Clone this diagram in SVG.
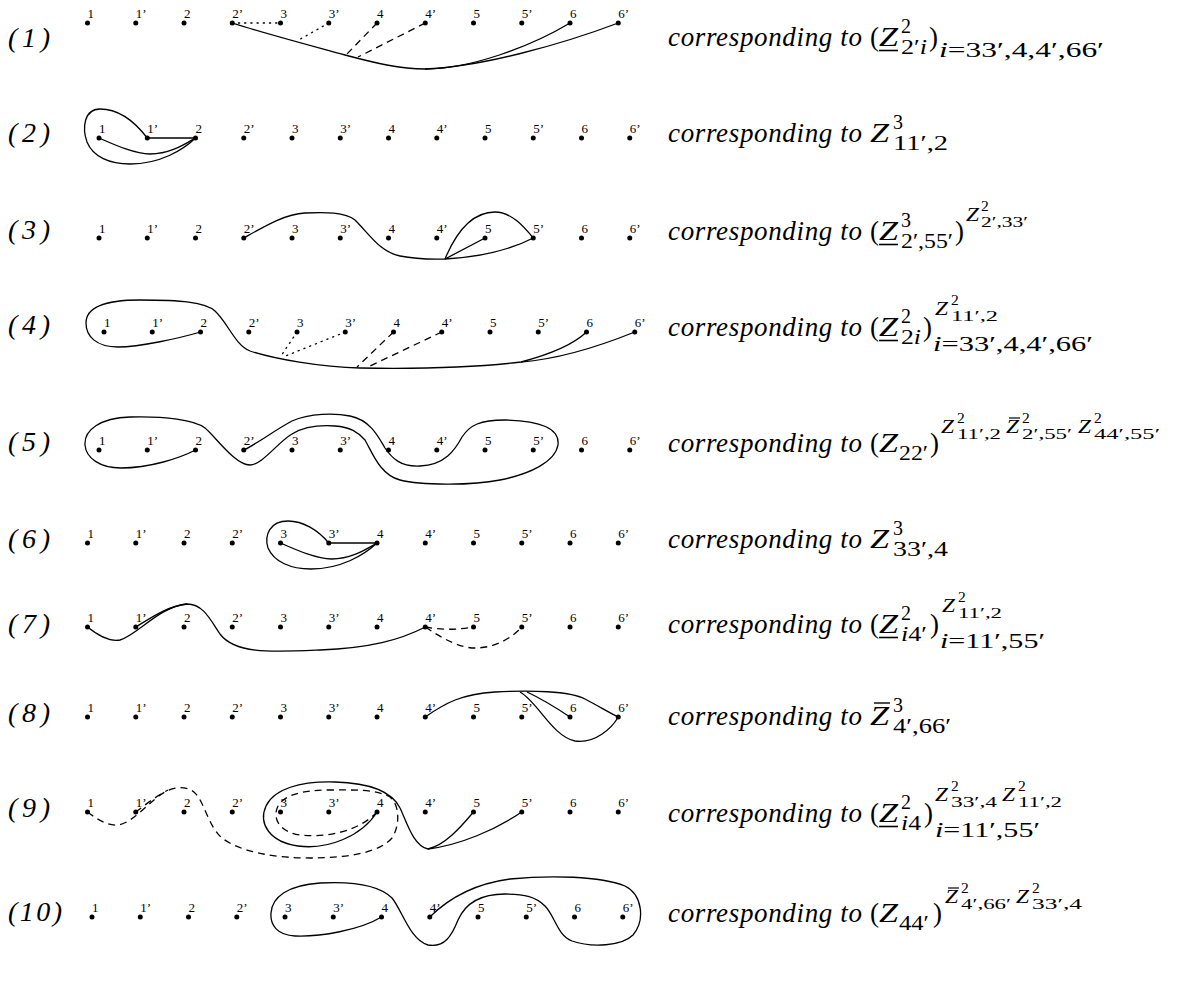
<svg xmlns="http://www.w3.org/2000/svg" width="1183" height="1006" viewBox="0 0 1183 1006">
<style>
text{font-family:"Liberation Serif","DejaVu Serif",serif;fill:#000}
.pl{font-size:13px}
.rl{font-size:28px;font-style:italic}
.m{font-size:27px;font-style:italic}
.r{font-size:27px}
.s{font-size:20px}
.ss{font-size:15.5px}
.z{font-size:19px;font-style:italic}
.it{font-style:italic}
.c{fill:none;stroke:#000;stroke-width:1.3}
.da{stroke-dasharray:7 5}
.dt{stroke-dasharray:1.2 5;stroke-linecap:round}
.ul{stroke:#000;stroke-width:1.6}
.bar{stroke:#000;stroke-width:1.2}
</style>
<defs>
<circle id="d" r="2.5" fill="#000"/>
</defs>
<rect width="1183" height="1006" fill="#fff"/>

<g id="rowlabels">
<text class="rl" x="8" y="47" textLength="42">(1)</text>
<text class="rl" x="8" y="142" textLength="42">(2)</text>
<text class="rl" x="8" y="239" textLength="42">(3)</text>
<text class="rl" x="8" y="334" textLength="42">(4)</text>
<text class="rl" x="8" y="451" textLength="42">(5)</text>
<text class="rl" x="8" y="548" textLength="42">(6)</text>
<text class="rl" x="8" y="633" textLength="42">(7)</text>
<text class="rl" x="8" y="722" textLength="42">(8)</text>
<text class="rl" x="8" y="817" textLength="42">(9)</text>
<text class="rl" x="8" y="921" textLength="54">(10)</text>
</g>

<g id="row1" transform="translate(87.5,23)">
<use href="#d" x="0"/><use href="#d" x="48.25"/><use href="#d" x="96.5"/><use href="#d" x="144.75"/><use href="#d" x="193"/><use href="#d" x="241.25"/><use href="#d" x="289.5"/><use href="#d" x="337.75"/><use href="#d" x="386"/><use href="#d" x="434.25"/><use href="#d" x="482.5"/><use href="#d" x="530.75"/>
<text class="pl" x="0" y="-5.5">1</text><text class="pl" x="48.25" y="-5.5">1’</text><text class="pl" x="96.5" y="-5.5">2</text><text class="pl" x="144.75" y="-5.5">2’</text><text class="pl" x="193" y="-5.5">3</text><text class="pl" x="241.25" y="-5.5">3’</text><text class="pl" x="289.5" y="-5.5">4</text><text class="pl" x="337.75" y="-5.5">4’</text><text class="pl" x="386" y="-5.5">5</text><text class="pl" x="434.25" y="-5.5">5’</text><text class="pl" x="482.5" y="-5.5">6</text><text class="pl" x="530.75" y="-5.5">6’</text>
</g>
<g id="row2" transform="translate(99,138)">
<use href="#d" x="0"/><use href="#d" x="48.25"/><use href="#d" x="96.5"/><use href="#d" x="144.75"/><use href="#d" x="193"/><use href="#d" x="241.25"/><use href="#d" x="289.5"/><use href="#d" x="337.75"/><use href="#d" x="386"/><use href="#d" x="434.25"/><use href="#d" x="482.5"/><use href="#d" x="530.75"/>
<text class="pl" x="0" y="-5.5">1</text><text class="pl" x="48.25" y="-5.5">1’</text><text class="pl" x="96.5" y="-5.5">2</text><text class="pl" x="144.75" y="-5.5">2’</text><text class="pl" x="193" y="-5.5">3</text><text class="pl" x="241.25" y="-5.5">3’</text><text class="pl" x="289.5" y="-5.5">4</text><text class="pl" x="337.75" y="-5.5">4’</text><text class="pl" x="386" y="-5.5">5</text><text class="pl" x="434.25" y="-5.5">5’</text><text class="pl" x="482.5" y="-5.5">6</text><text class="pl" x="530.75" y="-5.5">6’</text>
</g>
<g id="row3" transform="translate(99,238)">
<use href="#d" x="0"/><use href="#d" x="48.25"/><use href="#d" x="96.5"/><use href="#d" x="144.75"/><use href="#d" x="193"/><use href="#d" x="241.25"/><use href="#d" x="289.5"/><use href="#d" x="337.75"/><use href="#d" x="386"/><use href="#d" x="434.25"/><use href="#d" x="482.5"/><use href="#d" x="530.75"/>
<text class="pl" x="0" y="-5.5">1</text><text class="pl" x="48.25" y="-5.5">1’</text><text class="pl" x="96.5" y="-5.5">2</text><text class="pl" x="144.75" y="-5.5">2’</text><text class="pl" x="193" y="-5.5">3</text><text class="pl" x="241.25" y="-5.5">3’</text><text class="pl" x="289.5" y="-5.5">4</text><text class="pl" x="337.75" y="-5.5">4’</text><text class="pl" x="386" y="-5.5">5</text><text class="pl" x="434.25" y="-5.5">5’</text><text class="pl" x="482.5" y="-5.5">6</text><text class="pl" x="530.75" y="-5.5">6’</text>
</g>
<g id="row4" transform="translate(104,332)">
<use href="#d" x="0"/><use href="#d" x="48.25"/><use href="#d" x="96.5"/><use href="#d" x="144.75"/><use href="#d" x="193"/><use href="#d" x="241.25"/><use href="#d" x="289.5"/><use href="#d" x="337.75"/><use href="#d" x="386"/><use href="#d" x="434.25"/><use href="#d" x="482.5"/><use href="#d" x="530.75"/>
<text class="pl" x="0" y="-5.5">1</text><text class="pl" x="48.25" y="-5.5">1’</text><text class="pl" x="96.5" y="-5.5">2</text><text class="pl" x="144.75" y="-5.5">2’</text><text class="pl" x="193" y="-5.5">3</text><text class="pl" x="241.25" y="-5.5">3’</text><text class="pl" x="289.5" y="-5.5">4</text><text class="pl" x="337.75" y="-5.5">4’</text><text class="pl" x="386" y="-5.5">5</text><text class="pl" x="434.25" y="-5.5">5’</text><text class="pl" x="482.5" y="-5.5">6</text><text class="pl" x="530.75" y="-5.5">6’</text>
</g>
<g id="row5" transform="translate(99,450)">
<use href="#d" x="0"/><use href="#d" x="48.25"/><use href="#d" x="96.5"/><use href="#d" x="144.75"/><use href="#d" x="193"/><use href="#d" x="241.25"/><use href="#d" x="289.5"/><use href="#d" x="337.75"/><use href="#d" x="386"/><use href="#d" x="434.25"/><use href="#d" x="482.5"/><use href="#d" x="530.75"/>
<text class="pl" x="0" y="-5.5">1</text><text class="pl" x="48.25" y="-5.5">1’</text><text class="pl" x="96.5" y="-5.5">2</text><text class="pl" x="144.75" y="-5.5">2’</text><text class="pl" x="193" y="-5.5">3</text><text class="pl" x="241.25" y="-5.5">3’</text><text class="pl" x="289.5" y="-5.5">4</text><text class="pl" x="337.75" y="-5.5">4’</text><text class="pl" x="386" y="-5.5">5</text><text class="pl" x="434.25" y="-5.5">5’</text><text class="pl" x="482.5" y="-5.5">6</text><text class="pl" x="530.75" y="-5.5">6’</text>
</g>
<g id="row6" transform="translate(87.5,543)">
<use href="#d" x="0"/><use href="#d" x="48.25"/><use href="#d" x="96.5"/><use href="#d" x="144.75"/><use href="#d" x="193"/><use href="#d" x="241.25"/><use href="#d" x="289.5"/><use href="#d" x="337.75"/><use href="#d" x="386"/><use href="#d" x="434.25"/><use href="#d" x="482.5"/><use href="#d" x="530.75"/>
<text class="pl" x="0" y="-5.5">1</text><text class="pl" x="48.25" y="-5.5">1’</text><text class="pl" x="96.5" y="-5.5">2</text><text class="pl" x="144.75" y="-5.5">2’</text><text class="pl" x="193" y="-5.5">3</text><text class="pl" x="241.25" y="-5.5">3’</text><text class="pl" x="289.5" y="-5.5">4</text><text class="pl" x="337.75" y="-5.5">4’</text><text class="pl" x="386" y="-5.5">5</text><text class="pl" x="434.25" y="-5.5">5’</text><text class="pl" x="482.5" y="-5.5">6</text><text class="pl" x="530.75" y="-5.5">6’</text>
</g>
<g id="row7" transform="translate(87.5,627)">
<use href="#d" x="0"/><use href="#d" x="48.25"/><use href="#d" x="96.5"/><use href="#d" x="144.75"/><use href="#d" x="193"/><use href="#d" x="241.25"/><use href="#d" x="289.5"/><use href="#d" x="337.75"/><use href="#d" x="386"/><use href="#d" x="434.25"/><use href="#d" x="482.5"/><use href="#d" x="530.75"/>
<text class="pl" x="0" y="-5.5">1</text><text class="pl" x="48.25" y="-5.5">1’</text><text class="pl" x="96.5" y="-5.5">2</text><text class="pl" x="144.75" y="-5.5">2’</text><text class="pl" x="193" y="-5.5">3</text><text class="pl" x="241.25" y="-5.5">3’</text><text class="pl" x="289.5" y="-5.5">4</text><text class="pl" x="337.75" y="-5.5">4’</text><text class="pl" x="386" y="-5.5">5</text><text class="pl" x="434.25" y="-5.5">5’</text><text class="pl" x="482.5" y="-5.5">6</text><text class="pl" x="530.75" y="-5.5">6’</text>
</g>
<g id="row8" transform="translate(87.5,717)">
<use href="#d" x="0"/><use href="#d" x="48.25"/><use href="#d" x="96.5"/><use href="#d" x="144.75"/><use href="#d" x="193"/><use href="#d" x="241.25"/><use href="#d" x="289.5"/><use href="#d" x="337.75"/><use href="#d" x="386"/><use href="#d" x="434.25"/><use href="#d" x="482.5"/><use href="#d" x="530.75"/>
<text class="pl" x="0" y="-5.5">1</text><text class="pl" x="48.25" y="-5.5">1’</text><text class="pl" x="96.5" y="-5.5">2</text><text class="pl" x="144.75" y="-5.5">2’</text><text class="pl" x="193" y="-5.5">3</text><text class="pl" x="241.25" y="-5.5">3’</text><text class="pl" x="289.5" y="-5.5">4</text><text class="pl" x="337.75" y="-5.5">4’</text><text class="pl" x="386" y="-5.5">5</text><text class="pl" x="434.25" y="-5.5">5’</text><text class="pl" x="482.5" y="-5.5">6</text><text class="pl" x="530.75" y="-5.5">6’</text>
</g>
<g id="row9" transform="translate(87.5,812)">
<use href="#d" x="0"/><use href="#d" x="48.25"/><use href="#d" x="96.5"/><use href="#d" x="144.75"/><use href="#d" x="193"/><use href="#d" x="241.25"/><use href="#d" x="289.5"/><use href="#d" x="337.75"/><use href="#d" x="386"/><use href="#d" x="434.25"/><use href="#d" x="482.5"/><use href="#d" x="530.75"/>
<text class="pl" x="0" y="-5.5">1</text><text class="pl" x="48.25" y="-5.5">1’</text><text class="pl" x="96.5" y="-5.5">2</text><text class="pl" x="144.75" y="-5.5">2’</text><text class="pl" x="193" y="-5.5">3</text><text class="pl" x="241.25" y="-5.5">3’</text><text class="pl" x="289.5" y="-5.5">4</text><text class="pl" x="337.75" y="-5.5">4’</text><text class="pl" x="386" y="-5.5">5</text><text class="pl" x="434.25" y="-5.5">5’</text><text class="pl" x="482.5" y="-5.5">6</text><text class="pl" x="530.75" y="-5.5">6’</text>
</g>
<g id="row10" transform="translate(92,917)">
<use href="#d" x="0"/><use href="#d" x="48.25"/><use href="#d" x="96.5"/><use href="#d" x="144.75"/><use href="#d" x="193"/><use href="#d" x="241.25"/><use href="#d" x="289.5"/><use href="#d" x="337.75"/><use href="#d" x="386"/><use href="#d" x="434.25"/><use href="#d" x="482.5"/><use href="#d" x="530.75"/>
<text class="pl" x="0" y="-5.5">1</text><text class="pl" x="48.25" y="-5.5">1’</text><text class="pl" x="96.5" y="-5.5">2</text><text class="pl" x="144.75" y="-5.5">2’</text><text class="pl" x="193" y="-5.5">3</text><text class="pl" x="241.25" y="-5.5">3’</text><text class="pl" x="289.5" y="-5.5">4</text><text class="pl" x="337.75" y="-5.5">4’</text><text class="pl" x="386" y="-5.5">5</text><text class="pl" x="434.25" y="-5.5">5’</text><text class="pl" x="482.5" y="-5.5">6</text><text class="pl" x="530.75" y="-5.5">6’</text>
</g>

<g id="connectors">
<path class="c dt" d="M232.25,23 L280.5,23"/>
<path class="c dt" d="M328.75,23 L297,41"/>
<path class="c da" d="M377,23 L347,54"/>
<path class="c da" d="M425.25,23 L358,57"/>
<path class="c" d="M232.25,23 C270,35 320,48 345,55 C375,63 400,69 425,69 C470,69 530,47 570,23"/>
<path class="c" d="M425,69 C480,67 560,45 618.25,23"/>
<path class="c" d="M147.25,138 L195.5,138"/>
<path class="c" d="M99,138 C115,145 135,154 150,154 C170,154 185,144 195.5,138"/>
<path class="c" d="M147.25,138 C135,122 120,109 100,109 C84,109 82,128 87,142 C93,157 110,164 130,164 C160,164 183,150 195.5,138"/>
<path class="c" d="M243.75,238 C265,226 285,214 305,213 C325,212 345,212 355,220 C370,235 380,252 400,256 C420,260 440,259 445,259 C480,257 510,250 533.25,238"/>
<path class="c" d="M445,259 L485,238"/>
<path class="c" d="M445,259 C455,235 470,212 495,212 C512,212 525,228 533.25,238"/>
<path class="c" d="M200.5,332 C180,338 140,347 118,347 C96,347 86,336 86,323 C86,307 105,300 140,300 C180,300 205,302 215,311 C228,323 235,345 250,351 C275,359 320,367 360,368 C420,369 480,367 521,362 C555,353 575,343 586.5,332"/>
<path class="c" d="M521,362 C560,359 600,346 634.75,332"/>
<path class="c dt" d="M297,332 L281,356"/>
<path class="c dt" d="M345.25,332 L283,357"/>
<path class="c da" d="M393.5,332 L357,367"/>
<path class="c da" d="M441.75,332 L370,366"/>
<path class="c" d="M195.5,450 C180,458 150,468 121,468 C100,468 86,458 85,445 C84,430 100,418 130,417 C165,416 195,420 205,428 C215,436 235,465 250,465 C262,465 278,442 292,434 C305,426 320,425 335,426 C350,427 358,432 365,440 C372,452 380,475 400,480 C420,485 470,486 500,480 C530,474 555,462 558,445 C560,428 540,421 505,420 C480,420 470,425 462,437 C455,450 445,465 420,466 C400,467 392,458 385,448 C378,436 370,420 350,416 C335,413 310,413 292,421 C275,430 255,445 243.75,450"/>
<path class="c" d="M328.75,543 L377,543"/>
<path class="c" d="M280.5,543 C296.5,550 316.5,559 331.5,559 C351.5,559 366.5,549 377,543"/>
<path class="c" d="M328.75,543 C318,530 303,521 288,521 C270,521 264,535 268,548 C274,562 291,569 311,569 C341,569 364,555 377,543"/>
<path class="c" d="M87.5,627 C100,637 110,642 120,640 C136,636 160,606 187,604 C203,604 210,619 220,634 C235,654 270,652 320,650 C370,648 400,640 425.25,627"/>
<path class="c" d="M135.75,627 C152,617 168,606 187,604"/>
<path class="c da" d="M425.25,627 C440,630 458,630 473.5,627"/>
<path class="c da" d="M425.25,627 C445,640 460,648 475,648 C495,648 512,638 521.75,627"/>
<path class="c" d="M425.25,717 C445,703 462,694 495,692 C530,690 570,691 585,699 C600,707 612,714 618.25,717"/>
<path class="c" d="M527,692 C542,699 558,709 570,717"/>
<path class="c" d="M520,692 C538,702 552,736 575,741 C595,744 612,728 618.25,717"/>
<path class="c" d="M428,849 C413,846 406,820 400,808 C392,792 372,783 335,782 C300,781 274,789 266,806 C258,824 270,842 298,846 C328,850 362,836 377,812"/>
<path class="c" d="M473.5,812 C460,828 445,845 428,849"/>
<path class="c" d="M521.75,812 C495,830 460,845 428,849"/>
<path class="c da" d="M87.5,812 C98,820 108,826 118,825 C135,822 150,800 165,792 C175,786 188,786 195,793 C205,803 208,826 222,838 C240,852 275,858 310,858 C350,858 380,852 392,838 C400,826 400,805 390,797 C375,789 355,790 330,790 C305,790 285,794 278,806 C272,818 279,832 300,835 C330,838 360,830 377,812"/>
<path class="c da" d="M135.75,812 C145,805 155,797 168,790"/>
<path class="c" d="M381.5,917 C360,930 320,937 295,936 C277,935 270,925 271,913 C272,897 288,885 320,883 C355,881 380,886 392,898 C402,910 410,940 428,945 C445,948 452,935 458,920 C466,902 482,894 505,894 C525,894 536,897 545,906 C555,916 557,935 572,941 C592,948 622,946 633,935 C645,921 643,895 625,886 C600,876 550,875 510,879 C480,883 452,895 429.75,917"/>
</g>

<g id="formulas">
<g id="f1">
<text class="m" x="668" y="46" textLength="194" lengthAdjust="spacing">corresponding to</text>
<text class="r" x="870" y="46">(</text>
<text class="m" x="879" y="46" textLength="19" lengthAdjust="spacingAndGlyphs">Z</text>
<line class="ul" x1="879" y1="50.5" x2="898" y2="50.5"/>
<text class="s" x="901" y="33">2</text>
<text class="s" x="901" y="54" textLength="26" lengthAdjust="spacingAndGlyphs">2′<tspan class="it">i</tspan></text>
<text class="r" x="929" y="46">)</text>
<text class="s" x="939" y="57" textLength="165" lengthAdjust="spacingAndGlyphs"><tspan class="it">i</tspan>=33′,4,4′,66′</text>
</g>
<g id="f2">
<text class="m" x="668" y="142" textLength="194" lengthAdjust="spacing">corresponding to</text>
<text class="m" x="870" y="142" textLength="19" lengthAdjust="spacingAndGlyphs">Z</text>
<text class="s" x="893" y="129">3</text>
<text class="s" x="893" y="150" textLength="55" lengthAdjust="spacingAndGlyphs">11′,2</text>
</g>
<g id="f3">
<text class="m" x="668" y="240" textLength="194" lengthAdjust="spacing">corresponding to</text>
<text class="r" x="870" y="240">(</text>
<text class="m" x="879" y="240" textLength="19" lengthAdjust="spacingAndGlyphs">Z</text>
<line class="ul" x1="879" y1="244.5" x2="898" y2="244.5"/>
<text class="s" x="901" y="227">3</text>
<text class="s" x="901" y="248" textLength="52" lengthAdjust="spacingAndGlyphs">2′,55′</text>
<text class="r" x="955" y="240">)</text>
<text class="z" x="966" y="221" textLength="13" lengthAdjust="spacingAndGlyphs">Z</text>
<text class="ss" x="981" y="211">2</text>
<text class="ss" x="981" y="227" textLength="47" lengthAdjust="spacingAndGlyphs">2′,33′</text>
</g>
<g id="f4">
<text class="m" x="668" y="336" textLength="194" lengthAdjust="spacing">corresponding to</text>
<text class="r" x="870" y="336">(</text>
<text class="m" x="879" y="336" textLength="19" lengthAdjust="spacingAndGlyphs">Z</text>
<line class="ul" x1="879" y1="340.5" x2="898" y2="340.5"/>
<text class="s" x="901" y="323">2</text>
<text class="s" x="901" y="344" textLength="20" lengthAdjust="spacingAndGlyphs">2<tspan class="it">i</tspan></text>
<text class="r" x="923" y="336">)</text>
<text class="z" x="935" y="315" textLength="13" lengthAdjust="spacingAndGlyphs">Z</text>
<text class="ss" x="951" y="305">2</text>
<text class="ss" x="951" y="321" textLength="47" lengthAdjust="spacingAndGlyphs">11′,2</text>
<text class="s" x="933" y="351" textLength="160" lengthAdjust="spacingAndGlyphs"><tspan class="it">i</tspan>=33′,4,4′,66′</text>
</g>
<g id="f5">
<text class="m" x="668" y="452" textLength="194" lengthAdjust="spacing">corresponding to</text>
<text class="r" x="870" y="452">(</text>
<text class="m" x="879" y="452" textLength="19" lengthAdjust="spacingAndGlyphs">Z</text>
<text class="s" x="899" y="460" textLength="29" lengthAdjust="spacingAndGlyphs">22′</text>
<text class="r" x="930" y="452">)</text>
<text class="z" x="941" y="433" textLength="13" lengthAdjust="spacingAndGlyphs">Z</text>
<text class="ss" x="957" y="423">2</text>
<text class="ss" x="957" y="439" textLength="44" lengthAdjust="spacingAndGlyphs">11′,2</text>
<text class="z" x="1006" y="433" textLength="13" lengthAdjust="spacingAndGlyphs">Z</text>
<line class="bar" x1="1009" y1="418" x2="1020" y2="418"/>
<text class="ss" x="1022" y="423">2</text>
<text class="ss" x="1022" y="439" textLength="50" lengthAdjust="spacingAndGlyphs">2′,55′</text>
<text class="z" x="1078" y="433" textLength="13" lengthAdjust="spacingAndGlyphs">Z</text>
<text class="ss" x="1094" y="423">2</text>
<text class="ss" x="1094" y="439" textLength="66" lengthAdjust="spacingAndGlyphs">44′,55′</text>
</g>
<g id="f6">
<text class="m" x="668" y="548" textLength="194" lengthAdjust="spacing">corresponding to</text>
<text class="m" x="870" y="548" textLength="19" lengthAdjust="spacingAndGlyphs">Z</text>
<text class="s" x="893" y="535">3</text>
<text class="s" x="893" y="556" textLength="55" lengthAdjust="spacingAndGlyphs">33′,4</text>
</g>
<g id="f7">
<text class="m" x="668" y="633" textLength="194" lengthAdjust="spacing">corresponding to</text>
<text class="r" x="870" y="633">(</text>
<text class="m" x="879" y="633" textLength="19" lengthAdjust="spacingAndGlyphs">Z</text>
<line class="ul" x1="879" y1="637.5" x2="898" y2="637.5"/>
<text class="s" x="901" y="620">2</text>
<text class="s" x="901" y="641" textLength="26" lengthAdjust="spacingAndGlyphs"><tspan class="it">i</tspan>4′</text>
<text class="r" x="930" y="633">)</text>
<text class="z" x="942" y="612" textLength="13" lengthAdjust="spacingAndGlyphs">Z</text>
<text class="ss" x="958" y="602">2</text>
<text class="ss" x="958" y="618" textLength="44" lengthAdjust="spacingAndGlyphs">11′,2</text>
<text class="s" x="940" y="648" textLength="105" lengthAdjust="spacingAndGlyphs"><tspan class="it">i</tspan>=11′,55′</text>
</g>
<g id="f8">
<text class="m" x="668" y="725" textLength="194" lengthAdjust="spacing">corresponding to</text>
<text class="m" x="870" y="725" textLength="19" lengthAdjust="spacingAndGlyphs">Z</text>
<line class="bar" x1="874" y1="703" x2="890" y2="703" style="stroke-width:1.4"/>
<text class="s" x="893" y="712">3</text>
<text class="s" x="893" y="733" textLength="58" lengthAdjust="spacingAndGlyphs">4′,66′</text>
</g>
<g id="f9">
<text class="m" x="668" y="822" textLength="194" lengthAdjust="spacing">corresponding to</text>
<text class="r" x="870" y="822">(</text>
<text class="m" x="879" y="822" textLength="19" lengthAdjust="spacingAndGlyphs">Z</text>
<line class="ul" x1="879" y1="826.5" x2="898" y2="826.5"/>
<text class="s" x="901" y="809">2</text>
<text class="s" x="901" y="830" textLength="20" lengthAdjust="spacingAndGlyphs"><tspan class="it">i</tspan>4</text>
<text class="r" x="924" y="822">)</text>
<text class="z" x="935" y="801" textLength="13" lengthAdjust="spacingAndGlyphs">Z</text>
<text class="ss" x="951" y="791">2</text>
<text class="ss" x="951" y="807" textLength="46" lengthAdjust="spacingAndGlyphs">33′,4</text>
<text class="z" x="1002" y="801" textLength="13" lengthAdjust="spacingAndGlyphs">Z</text>
<text class="ss" x="1018" y="791">2</text>
<text class="ss" x="1018" y="807" textLength="44" lengthAdjust="spacingAndGlyphs">11′,2</text>
<text class="s" x="935" y="837" textLength="105" lengthAdjust="spacingAndGlyphs"><tspan class="it">i</tspan>=11′,55′</text>
</g>
<g id="f10">
<text class="m" x="668" y="922" textLength="194" lengthAdjust="spacing">corresponding to</text>
<text class="r" x="870" y="922">(</text>
<text class="m" x="879" y="922" textLength="19" lengthAdjust="spacingAndGlyphs">Z</text>
<text class="s" x="899" y="930" textLength="30" lengthAdjust="spacingAndGlyphs">44′</text>
<text class="r" x="933" y="922">)</text>
<text class="z" x="945" y="903" textLength="13" lengthAdjust="spacingAndGlyphs">Z</text>
<line class="bar" x1="948" y1="888" x2="959" y2="888"/>
<text class="ss" x="961" y="893">2</text>
<text class="ss" x="961" y="909" textLength="50" lengthAdjust="spacingAndGlyphs">4′,66′</text>
<text class="z" x="1016" y="903" textLength="13" lengthAdjust="spacingAndGlyphs">Z</text>
<text class="ss" x="1032" y="893">2</text>
<text class="ss" x="1032" y="909" textLength="50" lengthAdjust="spacingAndGlyphs">33′,4</text>
</g>
</g>
</svg>
